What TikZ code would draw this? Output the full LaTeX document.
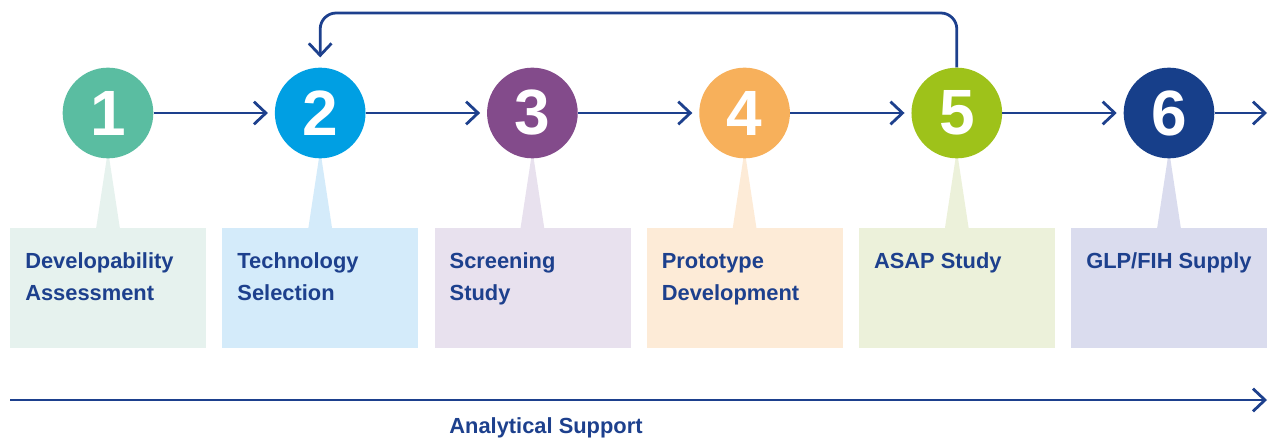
\documentclass[tikz,border=0pt]{standalone}
\usepackage{fontspec}
\setmainfont{Liberation Sans}
\usetikzlibrary{arrows.meta}

\definecolor{navy}{RGB}{29,64,141}
\definecolor{stepA}{RGB}{90,189,161}
\definecolor{stepB}{RGB}{0,159,227}
\definecolor{stepC}{RGB}{131,75,139}
\definecolor{stepD}{RGB}{247,176,91}
\definecolor{stepE}{RGB}{158,194,26}
\definecolor{stepF}{RGB}{23,63,138}
\definecolor{cardA}{RGB}{230,242,238}
\definecolor{cardB}{RGB}{212,235,250}
\definecolor{cardC}{RGB}{232,225,238}
\definecolor{cardD}{RGB}{253,235,215}
\definecolor{cardE}{RGB}{236,241,218}
\definecolor{cardF}{RGB}{218,220,238}

\begin{document}
\begin{tikzpicture}[x=0.75pt,y=0.75pt,yscale=-1,xscale=1,
  stage/.style={circle,minimum size=68pt,inner sep=0pt,text=white,font=\fontsize{48}{48}\selectfont\bfseries},
  card/.style={rectangle,minimum width=147pt,minimum height=90pt,inner sep=0pt,anchor=north west},
  cardtext/.style={anchor=north west,inner sep=0pt,align=left,text=navy,font=\fontsize{16.4}{24}\selectfont\bfseries,execute at begin node={\rule{0pt}{13pt}}},
  flow/.style={draw=navy,line width=2.1pt,-{Straight Barb[length=9pt,width=17pt,line width=2.1pt]}}]
\useasboundingbox (0,0) rectangle (1278,438);

% Pointers
\fill [cardA] (108,150) -- (96,229) -- (120,229) -- cycle ;
\fill [cardB] (320.2,150) -- (308.2,229) -- (332.2,229) -- cycle ;
\fill [cardC] (532.4,150) -- (520.4,229) -- (544.4,229) -- cycle ;
\fill [cardD] (744.6,150) -- (732.6,229) -- (756.6,229) -- cycle ;
\fill [cardE] (956.8,150) -- (944.8,229) -- (968.8,229) -- cycle ;
\fill [cardF] (1169,150) -- (1157,229) -- (1181,229) -- cycle ;

% Circles
\node [stage,fill=stepA] (c1) at (108,113) {1};
\node [stage,fill=stepB] (c2) at (320.2,113) {2};
\node [stage,fill=stepC] (c3) at (532.4,113) {3};
\node [stage,fill=stepD] (c4) at (744.6,113) {4};
\node [stage,fill=stepE] (c5) at (956.8,113) {5};
\node [stage,fill=stepF] (c6) at (1169,113) {6};

% Boxes
\node [card,fill=cardA] (b1) at (10,228) {};
\node [card,fill=cardB] (b2) at (222.2,228) {};
\node [card,fill=cardC] (b3) at (434.4,228) {};
\node [card,fill=cardD] (b4) at (646.6,228) {};
\node [card,fill=cardE] (b5) at (858.8,228) {};
\node [card,fill=cardF] (b6) at (1071,228) {};

% Text Node
\node [cardtext] (t1) at (25,252.7) {Developability\\Assessment};
\node [cardtext] (t2) at (237.2,252.7) {Technology\\Selection};
\node [cardtext] (t3) at (449.4,252.7) {Screening\\Study};
\node [cardtext] (t4) at (661.6,252.7) {Prototype\\Development};
\node [cardtext] (t5) at (873.8,250.7) {ASAP Study};
\node [cardtext] (t6) at (1086,250.7) {GLP/FIH Supply};

% Arrows
\coordinate (out) at (1267,113);
\draw [flow,shorten >=5pt] (c1) -- (c2);
\draw [flow,shorten >=5pt] (c2) -- (c3);
\draw [flow,shorten >=5pt] (c3) -- (c4);
\draw [flow,shorten >=5pt] (c4) -- (c5);
\draw [flow,shorten >=5pt] (c5) -- (c6);
\draw [flow] (c6) -- (out);
\draw [flow,rounded corners=12pt,shorten >=7.5pt] (c5.north) -- (c5.north |- 0,13) -- (c2.north |- 0,13) -- (c2.north);

% Analytical support
\coordinate (as0) at (10,400);
\coordinate (as1) at (1267,400);
\draw [flow] (as0) -- (as1);
\node [anchor=base,inner sep=0pt,text=navy,font=\fontsize{16.4}{24}\selectfont\bfseries] (as) at (546,433) {Analytical Support};

\end{tikzpicture}
\end{document}
